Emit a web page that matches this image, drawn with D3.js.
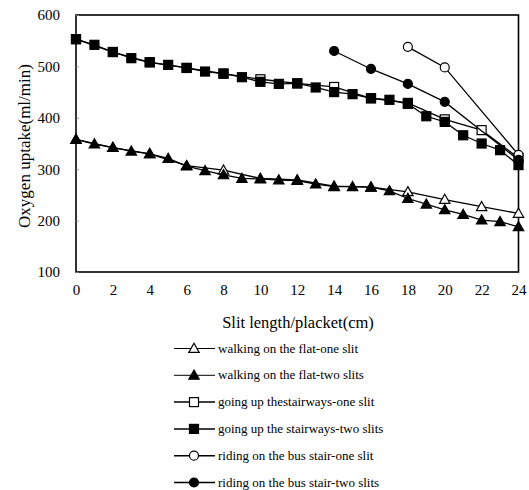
<!DOCTYPE html>
<html>
<head>
<meta charset="utf-8">
<script src="https://cdn.jsdelivr.net/npm/d3@7"></script>
<style>
  html, body { margin: 0; padding: 0; background: #fff; overflow: hidden; }
  svg { display: block; }
  text { font-family: "Liberation Serif", "Times New Roman", serif; fill: #000; }
</style>
</head>
<body>
<div id="chart"></div>
<script>
// ---- data ----
const xTicks = [0, 2, 4, 6, 8, 10, 12, 14, 16, 18, 20, 22, 24];
const yTicks = [100, 200, 300, 400, 500, 600];

const evenX = [0, 2, 4, 6, 8, 10, 12, 14, 16, 18, 20, 22, 24];
const allX = [0, 1, 2, 3, 4, 5, 6, 7, 8, 9, 10, 11, 12, 13, 14, 15, 16, 17, 18, 19, 20, 21, 22, 23, 24];

const walkOne = [358, 342, 330, 307, 298, 282, 279, 267, 265, 256, 241, 227, 214];
const walkTwo = [358, 349, 342, 335, 330, 321, 306, 297, 289, 282, 281, 279, 278, 271, 266, 266, 265, 258, 243, 232, 221, 212, 201, 198, 188];
const stairOne = [553, 528, 508, 497, 486, 475, 467, 460, 438, 429, 397, 376, 322];
const stairTwo = [553, 542, 528, 516, 508, 503, 497, 490, 486, 479, 470, 466, 467, 459, 450, 446, 438, 435, 427, 403, 392, 366, 350, 337, 308];
const busOneX = [18, 20, 24];
const busOne = [538, 498, 328];
const busTwoX = [14, 16, 18, 20, 24];
const busTwo = [530, 495, 466, 431, 318];

const seriesNames = [
  "walking on the flat-one slit",
  "walking on the flat-two slits",
  "going up thestairways-one slit",
  "going up the stairways-two slits",
  "riding on the bus stair-one slit",
  "riding on the bus stair-two slits"
];

const series = [
  { name: seriesNames[0], xs: evenX, ys: walkOne, shape: "triangle", filled: false },
  { name: seriesNames[1], xs: allX, ys: walkTwo, shape: "triangle", filled: true },
  { name: seriesNames[2], xs: evenX, ys: stairOne, shape: "square", filled: false },
  { name: seriesNames[3], xs: allX, ys: stairTwo, shape: "square", filled: true },
  { name: seriesNames[4], xs: busOneX, ys: busOne, shape: "circle", filled: false },
  { name: seriesNames[5], xs: busTwoX, ys: busTwo, shape: "circle", filled: true }
];

// ---- layout ----
const W = 529, H = 490;
const plot = { left: 76, right: 518.5, top: 15, bottom: 272 };

const svg = d3.select("#chart").append("svg").attr("width", W).attr("height", H);

const x = d3.scaleLinear().domain([0, 24]).range([plot.left, plot.right]);
const y = d3.scaleLinear().domain([100, 600]).range([plot.bottom, plot.top]);

// frame
svg.append("rect")
  .attr("x", plot.left).attr("y", plot.top)
  .attr("width", plot.right - plot.left).attr("height", plot.bottom - plot.top)
  .attr("fill", "none").attr("stroke", "#000").attr("stroke-width", 1.6);

// y axis labels (with small inward ticks)
const yAxis = d3.axisLeft(y).tickValues(yTicks).tickSize(-3).tickPadding(16).tickFormat(d3.format("d"));
const gy = svg.append("g").attr("transform", `translate(${plot.left},0)`).call(yAxis);
gy.select(".domain").remove();
gy.selectAll(".tick line").attr("stroke", "#888").attr("stroke-width", 0.8);
gy.selectAll(".tick text").style("font-size", "15px").attr("fill", "#000")
  .style("font-family", "'Liberation Serif', serif");

// x axis labels
const xAxis = d3.axisBottom(x).tickValues(xTicks).tickSize(0).tickPadding(12).tickFormat(d3.format("d"));
const gx = svg.append("g").attr("transform", `translate(0,${plot.bottom})`).call(xAxis);
gx.select(".domain").remove();
gx.selectAll(".tick text").style("font-size", "15px").attr("fill", "#000")
  .style("font-family", "'Liberation Serif', serif");

// axis titles
svg.append("text")
  .attr("transform", `translate(30,146) rotate(-90)`)
  .attr("text-anchor", "middle")
  .style("font-size", "17px")
  .text("Oxygen uptake(ml/min)");

svg.append("text")
  .attr("x", 298).attr("y", 328)
  .attr("text-anchor", "middle")
  .style("font-size", "16.5px")
  .text("Slit length/placket(cm)");

// marker drawing
function drawMarker(g, shape, filled, cx, cy) {
  const fill = filled ? "#000" : "#fff";
  if (shape === "square") {
    g.append("rect").attr("x", cx - 4.5).attr("y", cy - 4.5).attr("width", 9).attr("height", 9)
      .attr("fill", fill).attr("stroke", "#000").attr("stroke-width", 1.2);
  } else if (shape === "triangle") {
    const s = 5.2;
    g.append("path")
      .attr("d", `M${cx},${cy - s} L${cx + s},${cy + s * 0.75} L${cx - s},${cy + s * 0.75} Z`)
      .attr("fill", fill).attr("stroke", "#000").attr("stroke-width", 1.2);
  } else {
    g.append("circle").attr("cx", cx).attr("cy", cy).attr("r", 4.5)
      .attr("fill", fill).attr("stroke", "#000").attr("stroke-width", 1.2);
  }
}

const line = d3.line().x(d => x(d[0])).y(d => y(d[1]));

series.forEach(s => {
  const pts = s.xs.map((xv, i) => [xv, s.ys[i]]);
  const g = svg.append("g");
  g.append("path").attr("d", line(pts)).attr("fill", "none")
    .attr("stroke", "#000").attr("stroke-width", 1.3);
  pts.forEach(p => drawMarker(g, s.shape, s.filled, x(p[0]), y(p[1])));
});

// legend
const legendTop = 348.5, legendStep = 26.8;
series.forEach((s, i) => {
  const ly = legendTop + i * legendStep;
  const g = svg.append("g");
  g.append("line").attr("x1", 174).attr("x2", 215).attr("y1", ly).attr("y2", ly)
    .attr("stroke", "#000").attr("stroke-width", i < 2 ? 1 : 1.5);
  drawMarker(g, s.shape, s.filled, 194, ly);
  g.append("text").attr("x", 218).attr("y", ly + 4)
    .style("font-size", "13px")
    .text(s.name);
});
</script>
</body>
</html>
